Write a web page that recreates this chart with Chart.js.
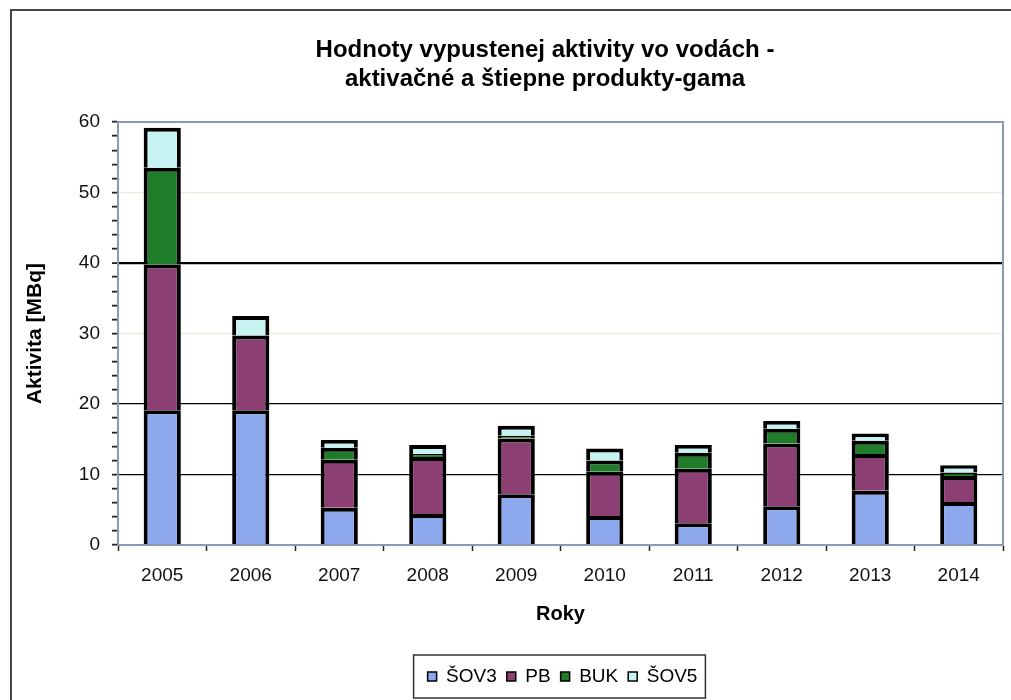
<!DOCTYPE html>
<html>
<head>
<meta charset="utf-8">
<script src="https://cdn.jsdelivr.net/npm/chart.js@4/dist/chart.umd.min.js"></script>
<style>
    html, body { margin: 0; padding: 0; background: #fff; }
    #wrap { position: relative; width: 1011px; height: 700px; }
</style>
</head>
<body>
<div id="wrap"><canvas id="aktivitaChart"></canvas></div>
<script>
const roky = ['2005', '2006', '2007', '2008', '2009', '2010', '2011', '2012', '2013', '2014'];
const sov3 = [19.1, 19.1, 5.3, 4.4, 7.2, 4.1, 3.1, 5.5, 7.7, 6.1];
const pb   = [20.7, 10.6, 6.8, 8.1, 7.9, 6.3, 7.7, 8.9, 5.2, 3.7];
const buk  = [13.7, 0,    1.7, 0.4, 0.4, 1.6, 2.3, 2.1, 1.9, 0.5];
const sov5 = [5.7,  2.8,  1.1, 1.3, 1.4, 1.7, 1.1, 1.1, 1.0, 1.0];
const nadpis = ['Hodnoty vypustenej aktivity vo vodách -', 'aktivačné a štiepne produkty-gama'];

const FONT = "'Liberation Sans', Arial, sans-serif";
const OS_FARBA = '#8a99b4';

// frame around the whole chart, plot border, heading and the legend box
const ramcek = {
    id: 'ramcek',
    afterLayout(chart) {
        // legend sits under the plot centre, not the canvas centre
        chart.legend.left += 56;
        chart.legend.right += 56;
    },
    beforeDraw(chart) {
        const c = chart.ctx;
        c.save();
        c.strokeStyle = '#444';
        c.lineWidth = 2;
        c.beginPath();
        c.moveTo(11, 700);
        c.lineTo(11, 10);
        c.lineTo(1011, 10);
        c.stroke();

        c.fillStyle = '#000';
        c.font = 'bold 24px ' + FONT;
        c.textAlign = 'center';
        c.textBaseline = 'middle';
        c.fillText(nadpis[0], 545, 50);
        c.fillText(nadpis[1], 545, 79);
        c.restore();
    },
    beforeDatasetsDraw(chart) {
        const a = chart.chartArea;
        const c = chart.ctx;
        c.save();
        c.strokeStyle = OS_FARBA;
        c.lineWidth = 2;
        c.beginPath();
        c.moveTo(a.left, a.top);
        c.lineTo(a.right, a.top);
        c.lineTo(a.right, a.bottom);
        c.stroke();
        c.restore();
    },
    afterDraw(chart) {
        const boxes = chart.legend.legendHitBoxes;
        if (!boxes || !boxes.length) return;
        const l = Math.min(...boxes.map(b => b.left)) - 14;
        const r = Math.max(...boxes.map(b => b.left + b.width)) + 8;
        const t = boxes[0].top - 12;
        const h = boxes[0].height + 24;
        const c = chart.ctx;
        c.save();
        c.strokeStyle = '#333';
        c.lineWidth = 1.5;
        c.strokeRect(l, t, r - l, h);
        c.restore();
    }
};

function vrstva(label, data, farba) {
    return {
        label: label,
        data: data,
        backgroundColor: farba,
        borderColor: '#000',
        borderWidth: 4,
        barPercentage: 0.42,
        categoryPercentage: 1.0
    };
}

new Chart(document.getElementById('aktivitaChart'), {
    type: 'bar',
    data: {
        labels: roky,
        datasets: [
            vrstva('ŠOV3', sov3, '#8ea8ee'),
            vrstva('PB', pb, '#8b3f72'),
            vrstva('BUK', buk, '#1f7d2a'),
            vrstva('ŠOV5', sov5, '#c8f3f3')
        ]
    },
    options: {
        responsive: true,
        maintainAspectRatio: false,
        animation: false,
        layout: { padding: { top: 122, left: 10, right: 8, bottom: 4 } },
        scales: {
            x: {
                stacked: true,
                afterFit(scale) { scale.height = 112; },
                grid: {
                    offset: true,
                    drawOnChartArea: false,
                    tickLength: 6,
                    tickColor: '#222',
                    tickWidth: 1.5
                },
                border: { color: OS_FARBA, width: 2 },
                ticks: { color: '#111', font: { family: FONT, size: 19 }, padding: 13 },
                title: {
                    display: true,
                    text: 'Roky',
                    color: '#000',
                    font: { family: FONT, size: 20, weight: 'bold' },
                    padding: { top: 14, bottom: 31 }
                }
            },
            y: {
                stacked: true,
                min: 0,
                max: 60,
                afterFit(scale) { scale.width = 108; },
                grid: {
                    color(ctx) {
                        const v = ctx.tick && ctx.tick.value;
                        if (v === 10 || v === 20 || v === 40) return '#000';
                        if (v === 30 || v === 50) return '#ece9de';
                        return 'rgba(0,0,0,0)';
                    },
                    lineWidth(ctx) {
                        const v = ctx.tick && ctx.tick.value;
                        return v === 40 ? 2.2 : 1.3;
                    },
                    tickLength: 6,
                    tickColor: '#222',
                    tickWidth: 1.8
                },
                border: { color: OS_FARBA, width: 2 },
                ticks: {
                    stepSize: 2,
                    autoSkip: false,
                    color: '#111',
                    padding: 12,
                    font: { family: FONT, size: 19 },
                    callback: v => (v % 10 === 0 ? v : '')
                },
                title: {
                    display: true,
                    text: 'Aktivita [MBq]',
                    color: '#000',
                    font: { family: FONT, size: 21, weight: 'bold' },
                    padding: { top: 13, bottom: 0 }
                }
            }
        },
        plugins: {
            title: { display: false },
            tooltip: { enabled: false },
            legend: {
                position: 'bottom',
                labels: {
                    color: '#000',
                    font: { family: FONT, size: 19 },
                    boxWidth: 9,
                    boxHeight: 9,
                    padding: 10,
                    generateLabels(chart) {
                        return chart.data.datasets.map((ds, i) => ({
                            text: ds.label,
                            fillStyle: ds.backgroundColor,
                            strokeStyle: '#000',
                            lineWidth: 1.5,
                            hidden: false,
                            datasetIndex: i,
                            fontColor: '#000'
                        }));
                    }
                }
            }
        }
    },
    plugins: [ramcek]
});
</script>
</body>
</html>
